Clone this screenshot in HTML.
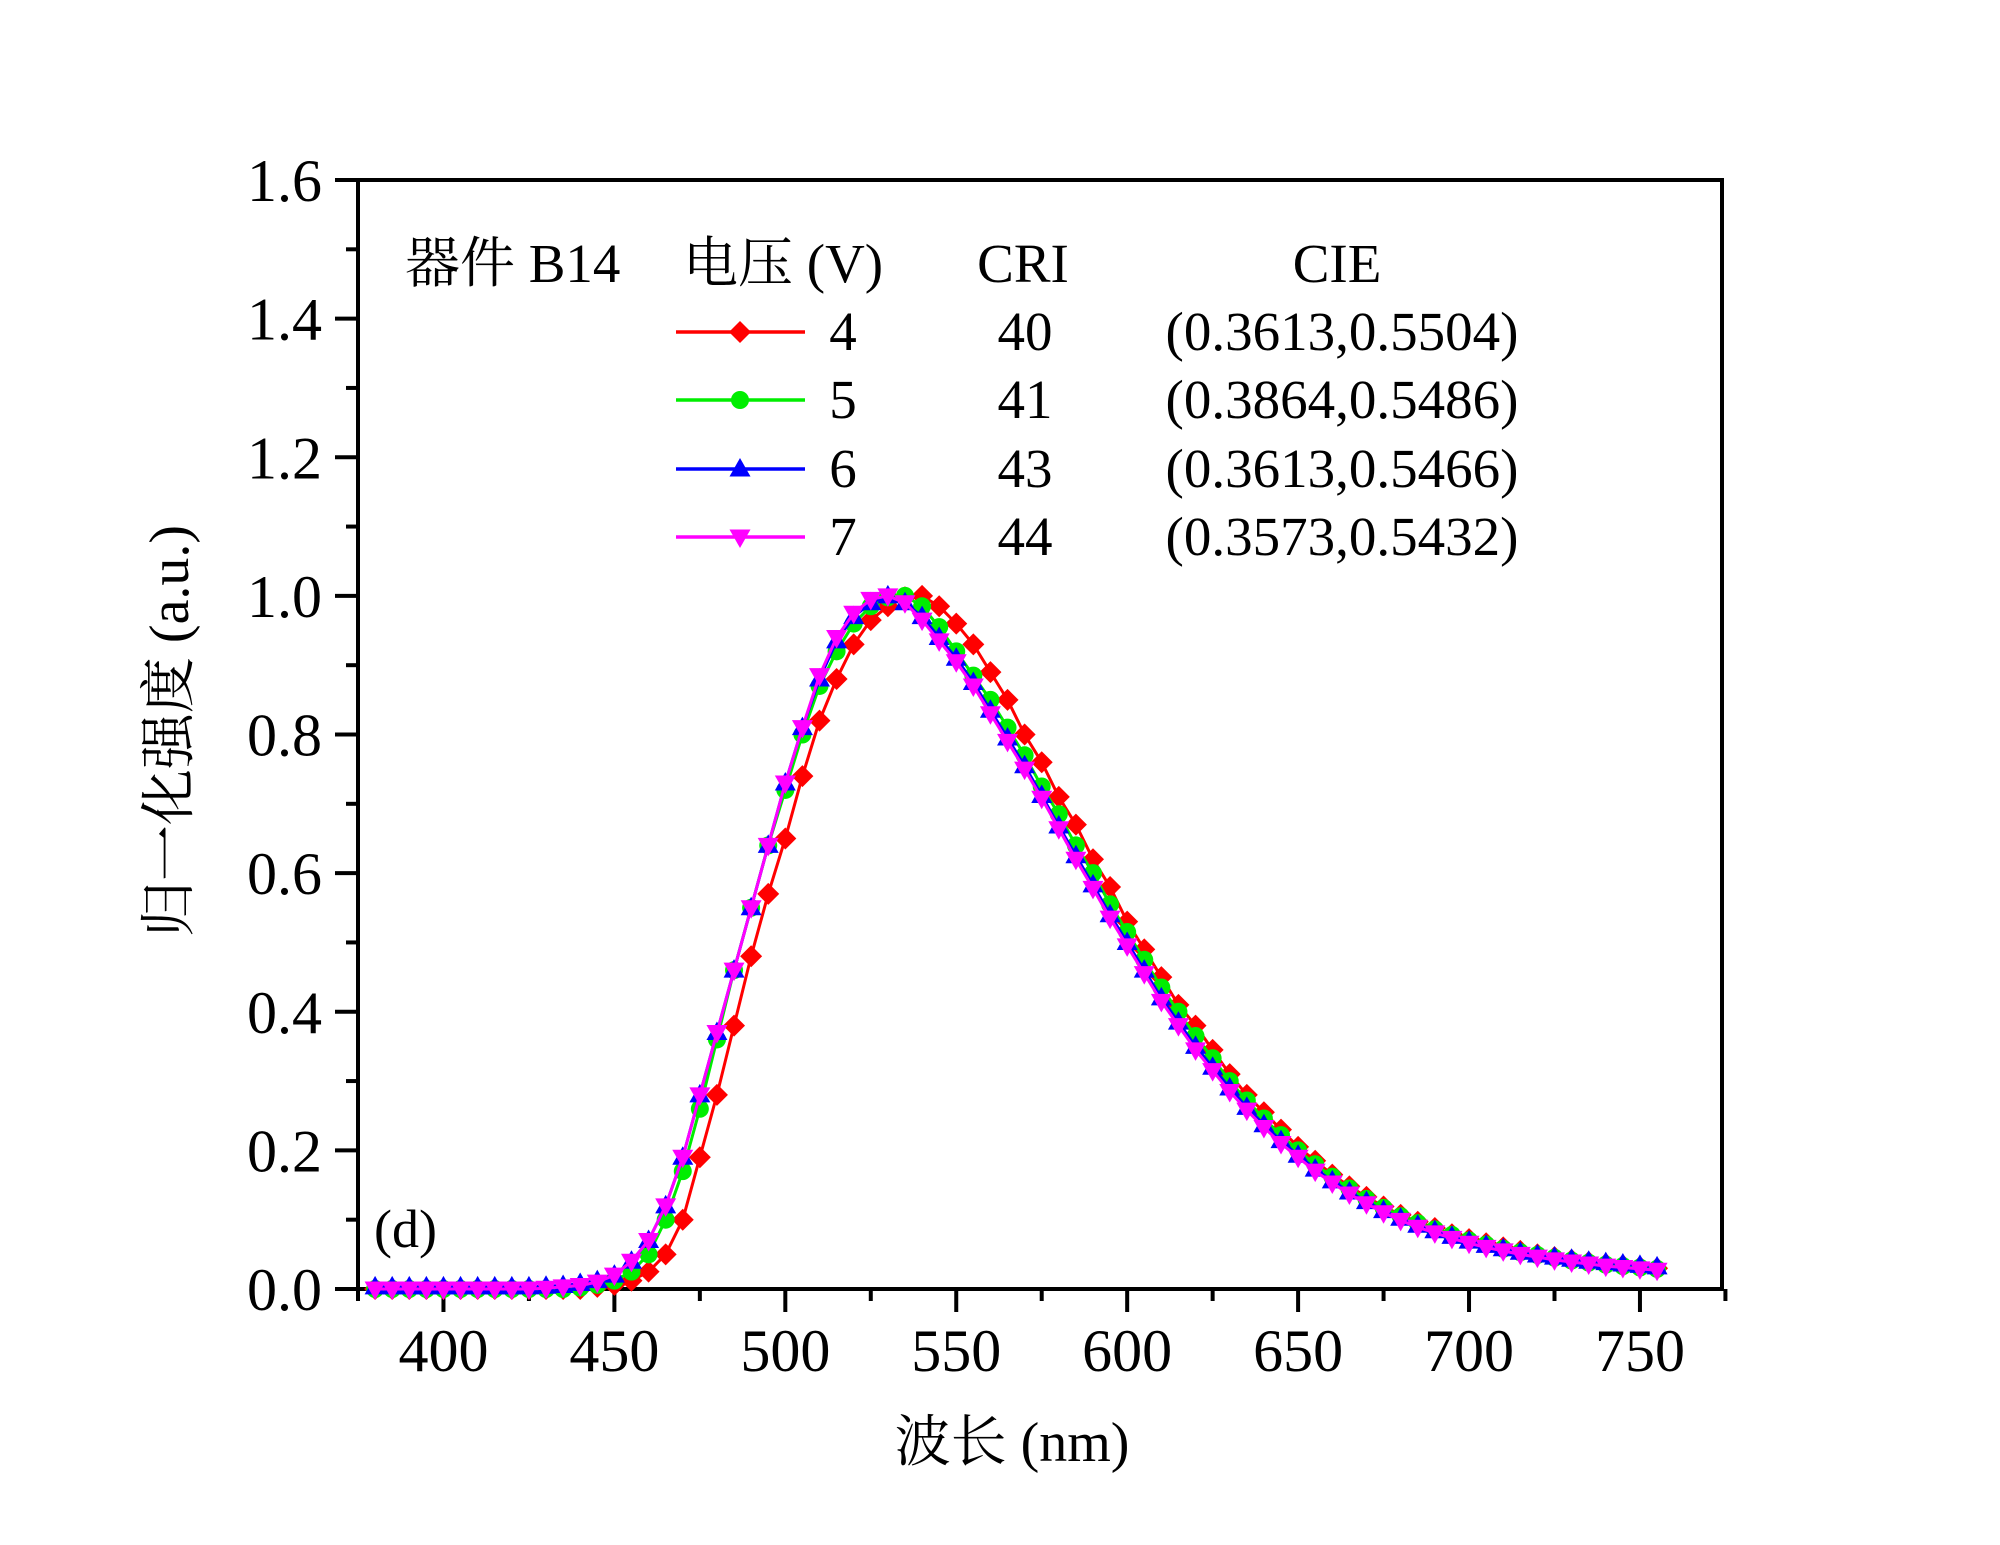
<!DOCTYPE html>
<html><head><meta charset="utf-8"><style>
html,body{margin:0;padding:0;background:#fff;}
svg{display:block;}
text{font-family:"Liberation Serif","Noto Serif CJK SC","Noto Sans CJK SC",serif;fill:#000;}
</style></head><body>
<svg id="chart" width="2000" height="1545" viewBox="0 0 2000 1545"></svg>
<script>
const wavelengths = [380,385,390,395,400,405,410,415,420,425,430,435,440,445,450,455,460,465,470,475,480,485,490,495,500,505,510,515,520,525,530,535,540,545,550,555,560,565,570,575,580,585,590,595,600,605,610,615,620,625,630,635,640,645,650,655,660,665,670,675,680,685,690,695,700,705,710,715,720,725,730,735,740,745,750,755];
const series4V = [0,0,0,0,0,0,0,0,0,0,0,0,0,0.003,0.006,0.012,0.025,0.05,0.1,0.19,0.28,0.38,0.48,0.57,0.65,0.74,0.82,0.88,0.93,0.965,0.985,0.998,1.0,0.985,0.96,0.93,0.89,0.85,0.80,0.76,0.71,0.67,0.62,0.58,0.53,0.49,0.45,0.41,0.38,0.345,0.31,0.28,0.255,0.23,0.205,0.185,0.165,0.148,0.133,0.119,0.107,0.097,0.088,0.079,0.072,0.066,0.06,0.055,0.05,0.046,0.042,0.039,0.036,0.034,0.032,0.03];
const series5V = [0,0,0,0,0,0,0,0,0,0,0,0,0.002,0.006,0.012,0.025,0.05,0.1,0.17,0.26,0.36,0.46,0.55,0.64,0.72,0.80,0.87,0.92,0.96,0.985,0.998,1.0,0.985,0.955,0.92,0.885,0.85,0.81,0.77,0.725,0.685,0.64,0.60,0.555,0.515,0.475,0.435,0.40,0.365,0.333,0.30,0.272,0.246,0.222,0.2,0.18,0.162,0.145,0.13,0.117,0.105,0.095,0.086,0.078,0.07,0.064,0.058,0.053,0.049,0.045,0.041,0.038,0.035,0.033,0.031,0.029];
const series6V = [0.003,0.003,0.003,0.003,0.003,0.003,0.003,0.003,0.003,0.003,0.004,0.005,0.008,0.012,0.02,0.04,0.07,0.12,0.19,0.28,0.37,0.46,0.55,0.64,0.73,0.81,0.88,0.935,0.97,0.99,1.0,0.99,0.97,0.94,0.91,0.875,0.835,0.795,0.755,0.712,0.668,0.625,0.583,0.54,0.5,0.46,0.42,0.385,0.35,0.32,0.29,0.262,0.237,0.214,0.193,0.173,0.156,0.14,0.126,0.113,0.102,0.092,0.084,0.076,0.069,0.063,0.058,0.053,0.049,0.046,0.043,0.04,0.038,0.036,0.034,0.032];
const series7V = [0,0,0,0,0,0,0,0,0,0,0.001,0.003,0.005,0.01,0.02,0.04,0.07,0.12,0.19,0.28,0.37,0.46,0.55,0.64,0.73,0.81,0.885,0.94,0.975,0.995,1.0,0.99,0.965,0.935,0.905,0.87,0.83,0.79,0.75,0.708,0.664,0.62,0.578,0.535,0.495,0.455,0.415,0.38,0.345,0.315,0.285,0.258,0.233,0.21,0.19,0.17,0.153,0.137,0.123,0.11,0.099,0.089,0.081,0.073,0.066,0.06,0.055,0.05,0.046,0.042,0.039,0.036,0.033,0.031,0.029,0.027];
const xTicks = [400,450,500,550,600,650,700,750];
const yTicks = [0.0,0.2,0.4,0.6,0.8,1.0,1.2,1.4,1.6];
const legendVolts = ["4","5","6","7"];
const legendCRI = ["40","41","43","44"];
const legendCIE = ["(0.3613,0.5504)","(0.3864,0.5486)","(0.3613,0.5466)","(0.3573,0.5432)"];

const NS="http://www.w3.org/2000/svg";
const svg=document.getElementById('chart');
const L=358,R=1722,T=180,B=1289;
const xMin=375,xMax=774,yMin=0,yMax=1.6;
function xs(v){return L+(v-xMin)/(xMax-xMin)*(R-L);}
function ys(v){return B-(v-yMin)/(yMax-yMin)*(B-T);}
function mk(tag,attrs,parent){const e=document.createElementNS(NS,tag);for(const k in attrs)e.setAttribute(k,attrs[k]);(parent||svg).appendChild(e);return e;}

const frame=mk('rect',{x:L,y:T,width:R-L,height:B-T,fill:'none',stroke:'#000','stroke-width':4});



for(let v=375;v<=775;v+=25){
  const major=(v%50===0);
  const t=mk('line',{x1:xs(v),x2:xs(v),y1:B,y2:B+(major?23:12),stroke:'#000','stroke-width':4});
  
  
}
xTicks.forEach(v=>{
  const t=mk('text',{x:xs(v),y:1371,'font-size':60,'text-anchor':'middle'});
  t.textContent=v;
  
  
});
for(let i=0;i<=16;i++){
  const v=i*0.1;
  const major=(i%2===0);
  const t=mk('line',{x1:L-(major?23:12),x2:L,y1:ys(v),y2:ys(v),stroke:'#000','stroke-width':4});
  
  
}
yTicks.forEach(v=>{
  const t=mk('text',{x:322,y:ys(v)+21,'font-size':60,'text-anchor':'end'});
  t.textContent=v.toFixed(1);
  
  
});
const xt=mk('text',{x:1012,y:1461,'font-size':56,'text-anchor':'middle'});
xt.textContent='波长 (nm)';


const yt=mk('text',{x:0,y:0,'font-size':56,'text-anchor':'middle',transform:'translate(188,731) rotate(-90)'});
yt.textContent='归一化强度 (a.u.)';


const pl=mk('text',{x:374,y:1247,'font-size':54});
pl.textContent='(d)';



function marker(shape,color,cx,cy,parent){
  let e;const s=11;
  if(shape==='diamond') e=mk('polygon',{points:`${cx},${cy-s} ${cx+s},${cy} ${cx},${cy+s} ${cx-s},${cy}`,fill:color},parent);
  else if(shape==='circle') e=mk('circle',{cx:cx,cy:cy,r:9,fill:color},parent);
  else if(shape==='up') e=mk('polygon',{points:`${cx},${cy-11} ${cx+10.5},${cy+7.5} ${cx-10.5},${cy+7.5}`,fill:color},parent);
  else e=mk('polygon',{points:`${cx},${cy+11} ${cx+10.5},${cy-7.5} ${cx-10.5},${cy-7.5}`,fill:color},parent);
  return e;
}
const seriesDefs=[
  {name:'series-4v',data:series4V,color:'#ff0000',shape:'diamond'},
  {name:'series-5v',data:series5V,color:'#00ee00',shape:'circle'},
  {name:'series-6v',data:series6V,color:'#0000ff',shape:'up'},
  {name:'series-7v',data:series7V,color:'#ff00ff',shape:'down'}
];
seriesDefs.forEach(sd=>{
  const g=mk('g',{});
  
  
  const pts=wavelengths.map((w,i)=>xs(w)+','+ys(sd.data[i])).join(' ');
  const ln=mk('polyline',{points:pts,fill:'none',stroke:sd.color,'stroke-width':3},g);
  
  
  wavelengths.forEach((w,i)=>{
    const m=marker(sd.shape,sd.color,xs(w),ys(sd.data[i]),g);
    
    
  });
});

const h1=mk('text',{x:405,y:282,'font-size':55});
h1.textContent='器件 B14';


const h2=mk('text',{x:683,y:282,'font-size':55});
h2.textContent='电压 (V)';


const h3=mk('text',{x:1023,y:282,'font-size':55,'text-anchor':'middle'});
h3.textContent='CRI';


const h4=mk('text',{x:1337,y:282,'font-size':55,'text-anchor':'middle'});
h4.textContent='CIE';


const rowBase=[350,418,487,555];
seriesDefs.forEach((sd,i)=>{
  const g=mk('g',{});
  
  
  const ly=rowBase[i]-18;
  mk('line',{x1:676,x2:805,y1:ly,y2:ly,stroke:sd.color,'stroke-width':3.5},g);
  marker(sd.shape,sd.color,740,ly,g);
  const a=mk('text',{x:843,y:rowBase[i],'font-size':55,'text-anchor':'middle'},g);a.textContent=legendVolts[i];
  const b=mk('text',{x:1025,y:rowBase[i],'font-size':55,'text-anchor':'middle'},g);b.textContent=legendCRI[i];
  const c=mk('text',{x:1342,y:rowBase[i],'font-size':55,'text-anchor':'middle'},g);c.textContent=legendCIE[i];
});
</script>
</body></html>
